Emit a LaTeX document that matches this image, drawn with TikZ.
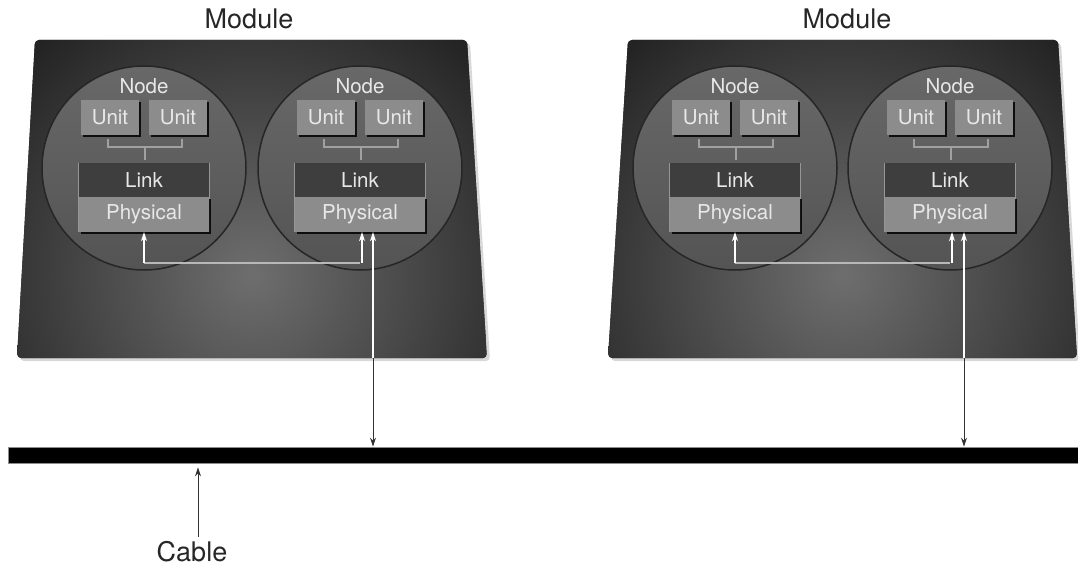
\documentclass[tikz,border=0pt]{standalone}
\usepackage{fontspec}
\setmainfont{TeX Gyre Heros}
\usetikzlibrary{arrows.meta,shadows}
\definecolor{modout}{RGB}{34,34,34}
\definecolor{modin}{RGB}{110,110,110}
\definecolor{circtop}{RGB}{104,104,104}
\definecolor{circbot}{RGB}{84,84,84}
\definecolor{boxgray}{RGB}{140,140,140}
\definecolor{linkgray}{RGB}{62,62,62}
\definecolor{edgegray}{RGB}{150,150,150}
\definecolor{txtwhite}{RGB}{232,232,232}
\definecolor{darkline}{RGB}{50,50,50}
\tikzset{
  modshape/.style={rounded corners=4pt},
  modlabel/.style={font=\fontsize{27}{32}\selectfont, text=black!85},
  nodecircle/.style={circle, minimum size=204pt, inner sep=0pt, draw=black!85, line width=1.5pt, top color=circtop, bottom color=circbot},
  smalltxt/.style={font=\fontsize{20.5}{24}\selectfont, text=txtwhite, inner sep=0pt},
  unitbox/.style={rectangle, minimum width=58pt, minimum height=35pt, inner sep=0pt, fill=boxgray, text=txtwhite, font=\fontsize{20.5}{24}\selectfont, drop shadow={shadow xshift=1.5pt, shadow yshift=-2pt, fill=black, opacity=0.85}},
  linkbox/.style={rectangle, minimum width=130pt, minimum height=69pt, inner sep=0pt, fill=linkgray},
  physbox/.style={rectangle, minimum width=130pt, minimum height=35pt, inner sep=0pt, fill=boxgray, text=txtwhite, font=\fontsize{20.5}{24}\selectfont, drop shadow={shadow xshift=1.5pt, shadow yshift=-2pt, fill=black, opacity=0.85}},
  linkedge/.style={draw=edgegray, line width=1pt},
  bracket/.style={draw=edgegray!90, line width=1.3pt},
  busline/.style={draw=black!28, line width=2pt},
  warrow/.style={draw=white, line width=1.1pt, -{Stealth[length=9pt,width=6pt]}},
  karrow/.style={draw=darkline, line width=1pt, -{Stealth[length=9pt,width=6pt]}},
  cablebar/.style={rectangle, minimum width=1070pt, minimum height=16pt, inner sep=0pt, fill=black, draw=black!45, line width=0.8pt},
  biglabel/.style={font=\fontsize{27}{32}\selectfont, text=black!85, inner sep=0pt},
}
\begin{document}
\begin{tikzpicture}[x=1pt,y=-1pt]
\useasboundingbox[fill=white] (0,0) rectangle (1078,569);

% module shadows
\fill[black!30, opacity=0.5, modshape] (38,43) -- (470,43) -- (490,361) -- (20,361) -- cycle;
\fill[black!30, opacity=0.5, modshape] (631,43) -- (1061,43) -- (1080,361) -- (611,361) -- cycle;

% modules
\path[modshape, fill=modout, path picture={\shade[inner color=modin, outer color=modout] (252,275) circle (320pt);}]
  (35,40) -- (467,40) -- (487,358) -- (17,358) -- cycle;
\path[modshape, fill=modout, path picture={\shade[inner color=modin, outer color=modout] (843,275) circle (320pt);}]
  (628,40) -- (1058,40) -- (1077,358) -- (608,358) -- cycle;

\node[modlabel] (modL) at (249,19) {Module};
\node[modlabel] (modR) at (847,19) {Module};

% cable
\node[cablebar] (cable) at (543,455) {};

% nodes
\foreach \cx/\n in {144/a,360/b,735/c,950/d}{
  \node[nodecircle] (circ\n) at (\cx,168) {};
  \node[smalltxt] (title\n) at (\cx,86) {Node};
  \node[unitbox] (ua\n) at (\cx-34,117.5) {Unit};
  \node[unitbox] (ub\n) at (\cx+34,117.5) {Unit};
  \node[linkbox] (link\n) at (\cx,197.5) {};
  \draw[linkedge] (link\n.north west) -- (link\n.south west);
  \draw[linkedge] (link\n.north east) -- (link\n.south east);
  \node[smalltxt] (linktxt\n) at (\cx,180) {Link};
  \node[physbox] (phys\n) at (\cx,214.5) {Physical};
  \draw[bracket] (\cx-36,139) -- (\cx-36,147) -- (\cx+38,147) -- (\cx+38,139);
  \draw[bracket] (\cx+1,147) -- (\cx+1,160);
  \coordinate (bus\n) at (\cx,263);
}

% buses between nodes of a module
\draw[busline] (busa) -- (busb);
\draw[busline] (busc) -- (busd);
\draw[warrow] (busa) -- (physa.south);
\draw[warrow] ([xshift=2pt]busb) -- ([xshift=2pt]physb.south);
\draw[warrow] (busc) -- (physc.south);
\draw[warrow] ([xshift=2pt]busd) -- ([xshift=2pt]physd.south);

% module to cable links
\coordinate (exitL) at (373,358);
\coordinate (exitR) at (964,358);
\draw[warrow] (exitL |- busb) -- (exitL |- physb.south);
\draw[warrow] (exitR |- busd) -- (exitR |- physd.south);
\draw[draw=white, line width=1.1pt] (exitL |- busb) -- (exitL);
\draw[draw=white, line width=1.1pt] (exitR |- busd) -- (exitR);
\draw[karrow] (exitL) -- (exitL |- cable.north);
\draw[karrow] (exitR) -- (exitR |- cable.north);

% cable label
\node[biglabel] (cablelbl) at (192,552) {Cable};
\coordinate (cabtip) at (198,537);
\draw[karrow, shorten >=4pt] (cabtip) -- (cabtip |- cable.south);
\end{tikzpicture}
\end{document}
